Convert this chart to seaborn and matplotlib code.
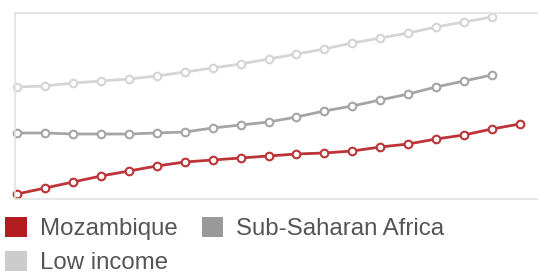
import numpy as np
import pandas as pd
import matplotlib
matplotlib.use("Agg")
import matplotlib.pyplot as plt
from matplotlib.patches import Patch
import seaborn as sns

# values (arbitrary units, no axis labels shown)
years = list(range(2000, 2019))
mozambique = [5, 11, 17, 23, 28, 33, 37, 39, 41, 43, 45, 46, 48, 52, 55, 60, 64, 70, 75]
sub_saharan = [66, 66, 65, 65, 65, 66, 67, 71, 74, 77, 82, 88, 93, 99, 105, 112, 118, 124]
low_income = [112, 113, 116, 118, 120, 123, 127, 131, 135, 140, 145, 150, 156, 161, 166, 172, 177, 182]

names = ["Mozambique", "Sub-Saharan Africa", "Low income"]
line_colors = {"Mozambique": "#bd3337", "Sub-Saharan Africa": "#a5a5a5", "Low income": "#d5d5d5"}
patch_colors = {"Mozambique": "#b01c20", "Sub-Saharan Africa": "#999999", "Low income": "#cccccc"}

rows = []
for name, vals in zip(names, [mozambique, sub_saharan, low_income]):
    for yr, v in zip(years, vals):
        rows.append({"year": yr, "value": v, "series": name})
df = pd.DataFrame(rows)

sns.set_style("white")
plt.rcParams['font.family'] = ['Liberation Sans', 'DejaVu Sans']

fig = plt.figure(figsize=(5.38, 2.72), dpi=100)
ax = fig.add_axes([15 / 538, 1 - 199 / 272, 1 - 15 / 538, 186 / 272])

# draw light series first so the red one sits on top
for name in ["Low income", "Sub-Saharan Africa", "Mozambique"]:
    sns.lineplot(data=df[df.series == name], x="year", y="value", ax=ax,
                 color=line_colors[name], lw=2.0, marker="o", ms=5.5,
                 mfc="white", mec=line_colors[name], mew=1.5, legend=False,
                 clip_on=False)

ax.set_xlim(2000 - 0.08, 2000 + 18.65)
ax.set_ylim(0, 186)
ax.set_xticks([])
ax.set_yticks([])
ax.set_xlabel("")
ax.set_ylabel("")
for side in ["left", "top", "bottom"]:
    ax.spines[side].set_color("#e2e2e2")
    ax.spines[side].set_linewidth(1.2)
ax.spines["right"].set_visible(False)

handles = [Patch(facecolor=patch_colors[n], edgecolor="none") for n in
           ["Mozambique", "Low income", "Sub-Saharan Africa"]]
labels = ["Mozambique", "Low income", "Sub-Saharan Africa"]
leg = fig.legend(handles, labels, ncol=2, loc="upper left",
                 bbox_to_anchor=(5 / 538, 1 - 217 / 272), frameon=False,
                 fontsize=17.3, borderpad=0, borderaxespad=0,
                 handlelength=0.9, handleheight=0.9, handletextpad=0.55,
                 columnspacing=1.0, labelspacing=0.45)
for t in leg.get_texts():
    t.set_color("#555555")

fig.savefig("out.png", dpi=100)
